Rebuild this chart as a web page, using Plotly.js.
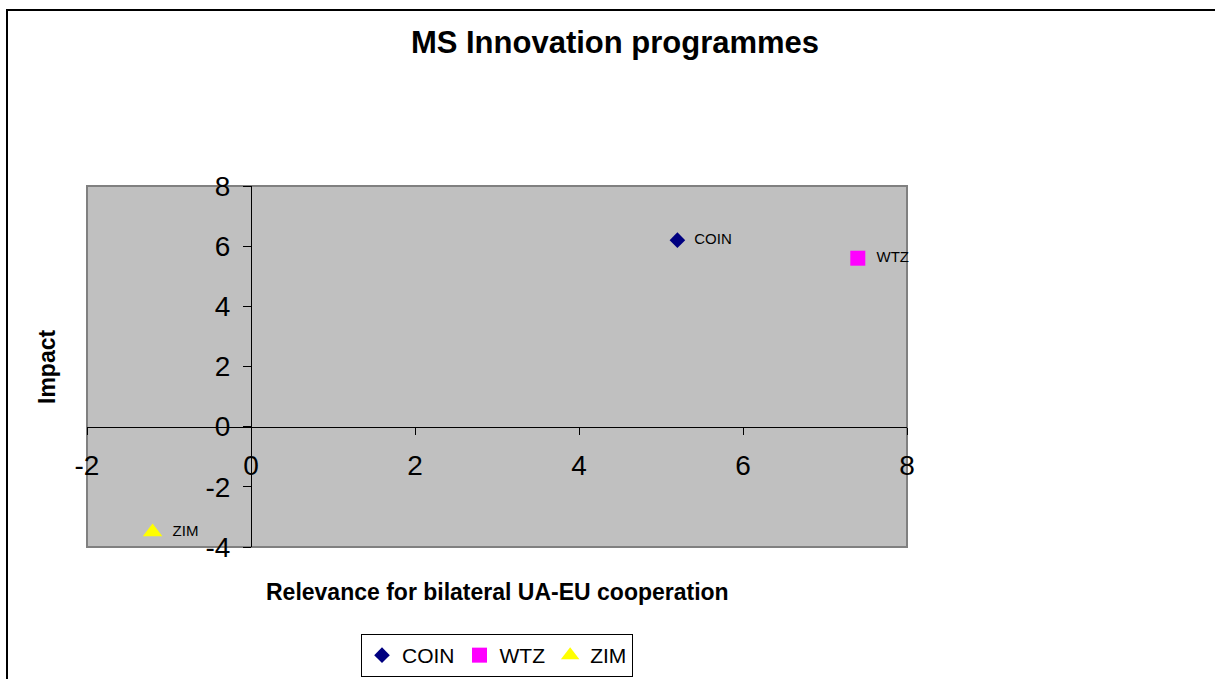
<!DOCTYPE html>
<html><head><meta charset="utf-8">
<script src="https://cdn.plot.ly/plotly-3.0.1.min.js"></script>
<style>
html,body{margin:0;padding:0;background:#fff;overflow:hidden;}
#wrap{position:relative;width:1215px;height:679px;}
#chart{position:absolute;left:0;top:0;width:1215px;height:679px;}
#frame{position:absolute;left:6px;top:9px;width:1300px;height:800px;border-top:2px solid #000;border-left:2px solid #000;pointer-events:none;}
</style></head>
<body>
<div id="wrap"><div id="chart"></div><div id="frame"></div></div>
<script>
const seriesNames = ["COIN", "WTZ", "ZIM"];
const relevance = [5.2, 7.4, -1.2];
const impact = [6.2, 5.6, -3.5];
const markerSymbols = ["diamond", "square", "triangle-up"];
const markerColors = ["#000080", "#ff00ff", "#ffff00"];
const markerSizes = [12, 15, 17];
const xTicks = [-2, 0, 2, 4, 6, 8];
const yTicks = [-4, -2, 0, 2, 4, 6, 8];

const font = "Arial, Liberation Sans, sans-serif";
const traces = seriesNames.map((n, i) => ({
  type: "scatter",
  mode: "markers+text",
  name: n,
  x: [relevance[i]],
  y: [impact[i]],
  text: ["\u00a0\u00a0" + n],
  textposition: "middle right",
  textfont: {family: font, size: 15, color: "#000"},
  marker: {symbol: markerSymbols[i], color: markerColors[i], size: markerSizes[i], line: {width: 0}},
  cliponaxis: false
}));

const layout = {
  width: 1215, height: 679,
  paper_bgcolor: "#fff",
  plot_bgcolor: "#c0c0c0",
  margin: {l: 87, r: 308, t: 186, b: 132},
  title: {text: "<b>MS Innovation programmes</b>", font: {family: font, size: 31, color: "#000"}, x: 615/1215, xanchor: "center", y: 1 - 42/679, yanchor: "middle"},
  showlegend: true,
  legend: {orientation: "h", x: 0.5, xanchor: "center", yref: "container", y: 1 - 634/679, yanchor: "top",
    font: {family: font, size: 21, color: "#000"}, bordercolor: "#000", borderwidth: 1,
    itemwidth: 30, tracegroupgap: 0, itemclick: false},
  xaxis: {
    range: [-2, 8], tickvals: xTicks, ticktext: xTicks.map(String),
    anchor: "free", position: 4/12,
    showgrid: false, zeroline: false, showline: true, linecolor: "#000", linewidth: 1,
    ticks: "outside", ticklen: 7, tickcolor: "#000", ticklabelstandoff: 7,
    tickfont: {family: font, size: 28, color: "#000"}
  },
  yaxis: {
    range: [-4, 8], tickvals: yTicks, ticktext: yTicks.map(String),
    anchor: "free", position: 0.2,
    showgrid: false, zeroline: false, showline: true, linecolor: "#000", linewidth: 1,
    ticks: "outside", ticklen: 8, tickcolor: "#000", ticklabelstandoff: 7,
    tickfont: {family: font, size: 28, color: "#000"}
  },
  shapes: [
    {type: "rect", xref: "paper", yref: "paper", x0: 0, x1: 1, y0: 0, y1: 1, line: {color: "#808080", width: 2}, layer: "below"}
  ],
  annotations: [
    {text: "<b>Relevance for bilateral UA-EU cooperation</b>", xref: "paper", yref: "paper", x: 0.5, xanchor: "center",
     y: (547 - 592) / 361, yanchor: "middle", showarrow: false, font: {family: font, size: 23, color: "#000"}},
    {text: "<b>Impact</b>", xref: "paper", yref: "paper", x: (47 - 87) / 820, xanchor: "center",
     y: (547 - 367) / 361, yanchor: "middle", textangle: -90, showarrow: false, font: {family: font, size: 23, color: "#000"}}
  ]
};

Plotly.newPlot("chart", traces, layout, {displayModeBar: false, staticPlot: true});
</script>
</body></html>
